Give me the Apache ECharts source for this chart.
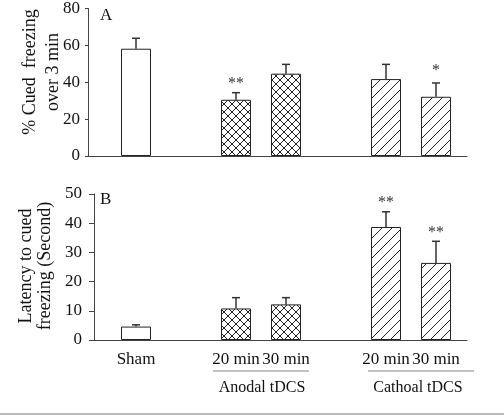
<!DOCTYPE html>
<html><head><meta charset="utf-8">
<script src="https://cdn.jsdelivr.net/npm/echarts@6/dist/echarts.min.js"></script>
<style>html,body{margin:0;padding:0;background:#fff}#c{width:504px;height:415px}</style>
</head><body><div id="c"></div>
<script>
// ---- data ----
const categories = ['Sham', '', '20 min', '30 min', '', '20 min', '30 min'];
const groupNames = ['Anodal tDCS', 'Cathoal tDCS'];
const patterns = ['none', '', 'cross', 'cross', '', 'diag', 'diag'];
const freezeMean = [57.6, null, 30.2, 44.2, null, 41.3, 31.8];
const freezeErr  = [5.6, null, 3.8, 5.0, null, 7.9, 7.4];
const freezeSig  = ['', '', '**', '', '', '', '*'];
const latencyMean = [4.6, null, 10.8, 12.2, null, 38.7, 26.4];
const latencyErr  = [0.6, null, 3.7, 2.3, null, 5.2, 7.4];
const latencySig  = ['', '', '', '', '', '**', '**'];
const freezeTicks = [0, 80, 20];
const latencyTicks = [0, 50, 10];

// ---- styles ----
const FONT = 'Liberation Serif';
const INK = '#222';
const TXT = '#111';
function makePattern(kind) {
  const c = document.createElement('canvas');
  const s = kind === 'cross' ? 8 : 10;
  c.width = s; c.height = s;
  const g = c.getContext('2d');
  g.fillStyle = '#fff'; g.fillRect(0, 0, s, s);
  g.strokeStyle = '#222'; g.lineWidth = 1;
  g.beginPath();
  g.moveTo(-1, s + 1); g.lineTo(s + 1, -1);
  g.moveTo(-1, 1); g.lineTo(1, -1);
  g.moveTo(s - 1, s + 1); g.lineTo(s + 1, s - 1);
  if (kind === 'cross') {
    g.moveTo(-1, -1); g.lineTo(s + 1, s + 1);
    g.moveTo(s - 1, -1); g.lineTo(s + 1, 1);
    g.moveTo(-1, s - 1); g.lineTo(1, s + 1);
  }
  g.stroke();
  return { image: c, repeat: 'repeat' };
}
const fills = { none: '#fff', cross: makePattern('cross'), diag: makePattern('diag') };

function barData(mean) {
  return mean.map((v, i) => v == null ? null : {
    value: v,
    itemStyle: { color: fills[patterns[i]], borderColor: INK, borderWidth: 1 }
  });
}
function errData(mean, err, sig) {
  const out = [];
  mean.forEach((v, i) => { if (v != null) out.push([i, v, err[i], sig[i]]); });
  return out;
}
function renderErr(params, api, sigs) {
  const x = api.value(0), m = api.value(1), e = api.value(2);
  const sig = sigs[params.dataIndex];
  const p0 = api.coord([x, m]);
  const p1 = api.coord([x, m + e]);
  const children = [
    { type: 'line', shape: { x1: p0[0], y1: p0[1], x2: p1[0], y2: p1[1] }, style: { stroke: '#333', lineWidth: 1.5 } },
    { type: 'line', shape: { x1: p1[0] - 4, y1: p1[1], x2: p1[0] + 4, y2: p1[1] }, style: { stroke: '#333', lineWidth: 1.5 } }
  ];
  if (sig) {
    children.push({ type: 'text', x: p1[0], y: p1[1] - (sig.length === 1 ? 4 : 1),
      style: { text: sig, fill: '#333', font: '16px "' + FONT + '"', align: 'center', verticalAlign: 'bottom' } });
  }
  return { type: 'group', children };
}
function errSeries(mean, err, sig, xi, yi) {
  const d = errData(mean, err, sig);
  const sigs = d.map(r => r[3]);
  return {
    type: 'custom', xAxisIndex: xi, yAxisIndex: yi, z: 5,
    data: d.map(r => r.slice(0, 3)),
    renderItem: (params, api) => renderErr(params, api, sigs)
  };
}

const axisLineGray = { lineStyle: { color: '#444', width: 1 } };
const tickLabel = { color: TXT, fontFamily: FONT, fontSize: 17 };

const chart = echarts.init(document.getElementById('c'), null, { renderer: 'canvas' });
chart.setOption({
  animation: false,
  backgroundColor: '#fff',
  grid: [
    { left: 88, top: 7, width: 379, height: 149 },
    { left: 111, top: 7, width: 350, height: 149 },
    { left: 94, top: 194, width: 373, height: 146 },
    { left: 111, top: 194, width: 350, height: 146 }
  ],
  xAxis: [
    { gridIndex: 0, type: 'value', min: 0, max: 1, axisLine: { show: true, onZero: false, ...axisLineGray }, axisTick: { show: false }, axisLabel: { show: false }, splitLine: { show: false } },
    { gridIndex: 1, type: 'category', data: categories, show: false },
    { gridIndex: 2, type: 'value', min: 0, max: 1, axisLine: { show: true, onZero: false, ...axisLineGray }, axisTick: { show: false }, axisLabel: { show: false }, splitLine: { show: false } },
    { gridIndex: 3, type: 'category', data: categories, axisLine: { show: false }, axisTick: { show: false },
      axisLabel: { ...tickLabel, interval: 0, margin: 11 } }
  ],
  yAxis: [
    { gridIndex: 0, type: 'value', min: freezeTicks[0], max: freezeTicks[1], interval: freezeTicks[2],
      axisLine: { show: true, ...axisLineGray }, axisTick: { show: true, length: 3, lineStyle: { color: '#444' } },
      axisLabel: { ...tickLabel, margin: 8 }, splitLine: { show: false } },
    { gridIndex: 1, type: 'value', min: freezeTicks[0], max: freezeTicks[1], show: false },
    { gridIndex: 2, type: 'value', min: latencyTicks[0], max: latencyTicks[1], interval: latencyTicks[2],
      axisLine: { show: true, ...axisLineGray }, axisTick: { show: true, length: 5, lineStyle: { color: '#444' } },
      axisLabel: { ...tickLabel, margin: 12 }, splitLine: { show: false } },
    { gridIndex: 3, type: 'value', min: latencyTicks[0], max: latencyTicks[1], show: false }
  ],
  series: [
    { type: 'bar', xAxisIndex: 1, yAxisIndex: 1, barWidth: 30, data: barData(freezeMean) },
    errSeries(freezeMean, freezeErr, freezeSig, 1, 1),
    { type: 'bar', xAxisIndex: 3, yAxisIndex: 3, barWidth: 30, data: barData(latencyMean) },
    errSeries(latencyMean, latencyErr, latencySig, 3, 3)
  ],
  graphic: [
    { type: 'text', x: 100, y: 16, style: { text: 'A', font: '17px "' + FONT + '"', fill: TXT, verticalAlign: 'middle' } },
    { type: 'text', x: 100, y: 200, style: { text: 'B', font: '17px "' + FONT + '"', fill: TXT, verticalAlign: 'middle' } },
    { type: 'text', x: 42, y: 72, rotation: Math.PI / 2,
      style: { text: '% Cued  freezing\nover 3 min', font: '18px "' + FONT + '"', lineHeight: 23, fill: TXT, align: 'center', verticalAlign: 'middle' } },
    { type: 'text', x: 36, y: 266, rotation: Math.PI / 2,
      style: { text: 'Latency to cued\nfreezing (Second)', font: '18px "' + FONT + '"', lineHeight: 19, fill: TXT, align: 'center', verticalAlign: 'middle' } },
    { type: 'line', shape: { x1: 213, y1: 371, x2: 309, y2: 371 }, style: { stroke: '#888', lineWidth: 1 } },
    { type: 'line', shape: { x1: 368, y1: 371, x2: 474, y2: 371 }, style: { stroke: '#888', lineWidth: 1 } },
    { type: 'text', x: 262, y: 388, style: { text: groupNames[0], font: '16px "' + FONT + '"', fill: TXT, align: 'center', verticalAlign: 'middle' } },
    { type: 'text', x: 418, y: 388, style: { text: groupNames[1], font: '16px "' + FONT + '"', fill: TXT, align: 'center', verticalAlign: 'middle' } },
    { type: 'line', shape: { x1: 0, y1: 414, x2: 504, y2: 414 }, style: { stroke: '#bbb', lineWidth: 2 } }
  ]
});
</script></body></html>
